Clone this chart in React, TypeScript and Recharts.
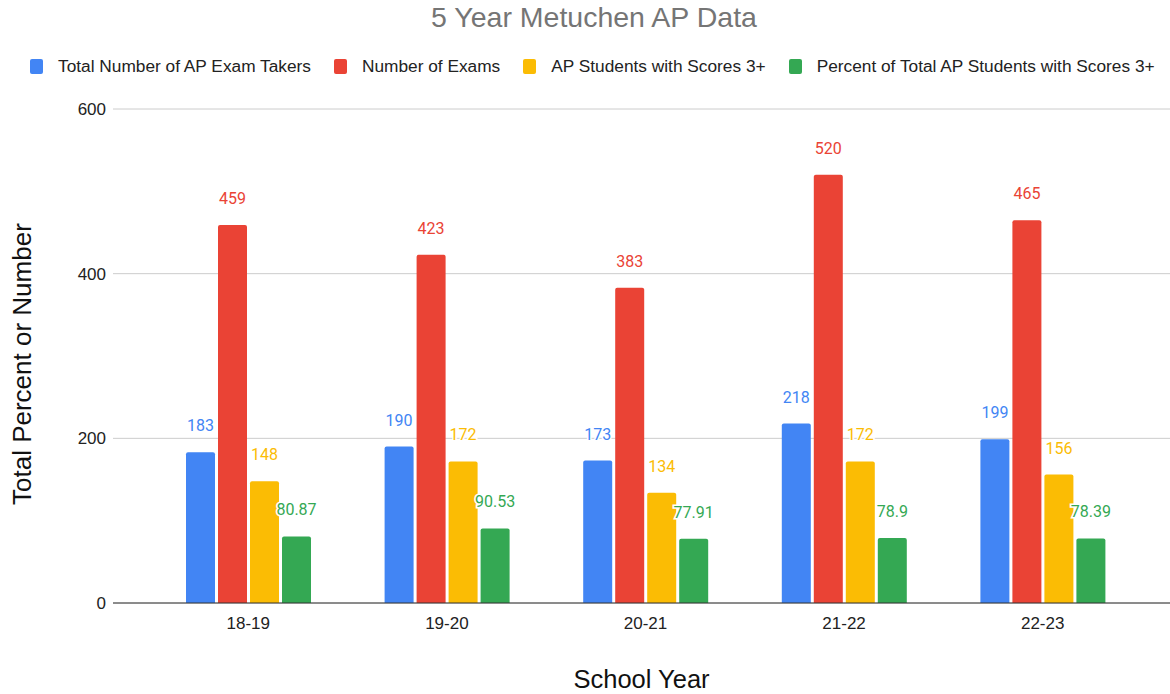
import { Bar, BarChart, CartesianGrid, LabelList, XAxis, YAxis } from 'recharts';

const years = ['18-19', '19-20', '20-21', '21-22', '22-23'];
const examTakers = [183, 190, 173, 218, 199];
const numExams = [459, 423, 383, 520, 465];
const scores3Plus = [148, 172, 134, 172, 156];
const percent3Plus = [80.87, 90.53, 77.91, 78.9, 78.39];
const yTicks = [0, 200, 400, 600];

const SERIES = [
  { key: 'takers', name: 'Total Number of AP Exam Takers', color: '#4285f4' },
  { key: 'exams', name: 'Number of Exams', color: '#ea4335' },
  { key: 'scores', name: 'AP Students with Scores 3+', color: '#fbbc04' },
  { key: 'percent', name: 'Percent of Total AP Students with Scores 3+', color: '#34a853' },
];

const data = years.map((year, i) => ({
  year,
  takers: examTakers[i],
  exams: numExams[i],
  scores: scores3Plus[i],
  percent: percent3Plus[i],
}));

const FONT = 'Roboto, Arial, sans-serif';
const ARIAL = 'Arial, "Liberation Sans", sans-serif';

function LegendRow() {
  return (
    <div
      style={{
        position: 'absolute',
        top: 55,
        left: 30,
        display: 'flex',
        fontFamily: ARIAL,
        fontSize: 17.3,
        color: '#222',
        lineHeight: '22px',
        whiteSpace: 'nowrap',
      }}
    >
      {SERIES.map((s) => (
        <div key={s.key} style={{ display: 'flex', alignItems: 'center', marginRight: 23 }}>
          <span style={{ width: 13, height: 15, borderRadius: 2, background: s.color, marginRight: 15, display: 'inline-block' }} />
          <span>{s.name}</span>
        </div>
      ))}
    </div>
  );
}

export default function App() {
  return (
    <div style={{ position: 'absolute', left: 0, top: 0, width: 1170, height: 694, background: '#fff' }}>
      <div
        style={{
          position: 'absolute',
          top: 0,
          left: 0,
          width: 1188,
          textAlign: 'center',
          fontFamily: ARIAL,
          fontSize: 28.5,
          color: '#757575',
          lineHeight: '34px',
        }}
      >
        5 Year Metuchen AP Data
      </div>
      <LegendRow />
      <BarChart
        width={1170}
        height={694}
        data={data}
        margin={{ top: 109, right: 0, left: 0, bottom: 61 }}
        barCategoryGap="18.6%"
        barGap={3}
        style={{ position: 'absolute', left: 0, top: 0 }}
      >
        <CartesianGrid vertical={false} stroke="#cccccc" />
        <XAxis
          dataKey="year"
          padding={{ left: 36, right: 28 }}
          tickLine={false}
          axisLine={{ stroke: '#333333' }}
          tick={{ fontSize: 17, fill: '#222', fontFamily: ARIAL }}
          tickMargin={8}
          label={{ value: 'School Year', position: 'insideBottom', offset: -55, fontSize: 25.5, fill: '#111', fontFamily: ARIAL }}
        />
        <YAxis
          domain={[0, 600]}
          ticks={yTicks}
          width={113}
          tickLine={false}
          axisLine={false}
          tick={{ fontSize: 17, fill: '#222', fontFamily: ARIAL }}
          tickMargin={1}
          label={{
            value: 'Total Percent or Number',
            angle: -90,
            position: 'insideLeft',
            dx: 17,
            dy: 149,
            fontSize: 26,
            fill: '#111',
            fontFamily: ARIAL,
          }}
        />
        {SERIES.map((s) => (
          <Bar key={s.key} dataKey={s.key} name={s.name} fill={s.color} barSize={29} radius={[2, 2, 0, 0]} isAnimationActive={false}>
            <LabelList
              dataKey={s.key}
              position="top"
              offset={21}
              fill={s.color}
              stroke="#fff"
              strokeWidth={3}
              paintOrder="stroke"
              fontSize={16}
              fontFamily={FONT}
            />
          </Bar>
        ))}
      </BarChart>
    </div>
  );
}
